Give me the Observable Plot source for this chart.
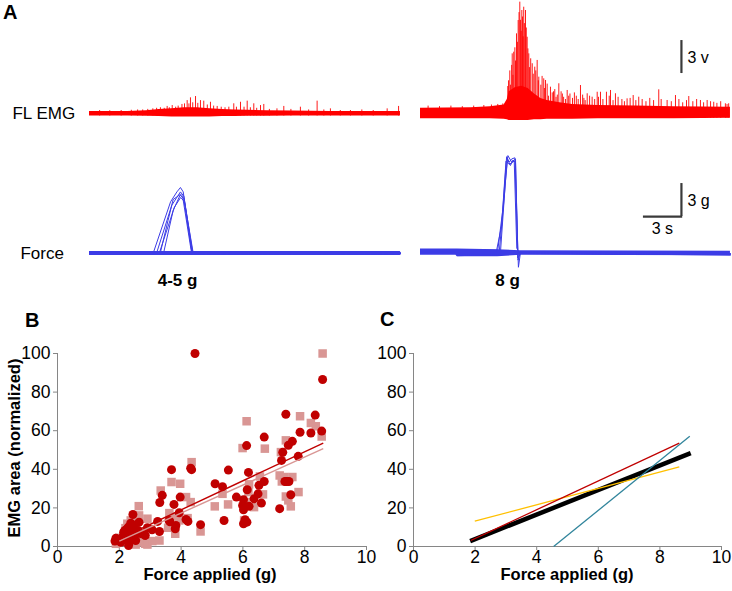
<!DOCTYPE html>
<html><head><meta charset="utf-8">
<script src="https://cdn.jsdelivr.net/npm/d3@7"></script>
<script src="https://cdn.jsdelivr.net/npm/@observablehq/plot@0.6"></script>
<style>
body{margin:0;background:#fff}
#fig{position:relative;width:732px;height:591px;overflow:hidden;background:#fff;font-family:"Liberation Sans",Arial,sans-serif;color:#000}
.lbl{position:absolute;line-height:1;white-space:nowrap}
</style></head>
<body><div id="fig"></div>
<script>
// ---------------- Panel A data (time in s, amplitude in scale-bar units) ----------------
const leftEmgBandT  = [0, 3.0, 4.5, 5.5, 6.5, 7.5, 8.5, 9.5, 10.5, 11.5, 12.5, 14.0, 16.0, 19.0, 24.55];
const leftEmgBandHi = [0.2, 0.22, 0.28, 0.38, 0.45, 0.55, 0.55, 0.45, 0.38, 0.35, 0.32, 0.28, 0.25, 0.22, 0.22];
const leftEmgBandLo = [-0.2, -0.2, -0.22, -0.25, -0.28, -0.3, -0.3, -0.28, -0.25, -0.24, -0.22, -0.22, -0.2, -0.2, -0.2];
const leftSpikeT = [0.8,1.6,2.5,3.3,3.8,4.2,4.6,5.0,5.3,5.6,5.9,6.13,6.3,6.53,6.8,7.0,7.3,7.5,7.71,7.85,7.97,8.15,8.37,8.55,8.76,9.02,9.3,9.55,9.8,10.08,10.4,10.7,11.0,11.39,11.6,11.92,12.2,12.45,12.7,12.97,13.2,13.5,13.76,14.2,14.8,15.34,15.9,16.65,17.3,17.97,18.5,19.02,19.8,20.6,21.5,22.4,23.5,24.4];
const leftSpikeA = [0.3,0.28,0.3,0.32,0.35,0.35,0.4,0.45,0.5,0.55,0.5,0.67,0.55,0.75,0.6,0.7,0.85,0.9,1.2,0.9,1.45,1.0,1.57,0.95,1.2,1.15,0.8,1.05,0.7,0.67,0.6,0.55,0.6,0.91,0.6,1.05,0.6,1.15,0.55,0.91,0.5,0.75,0.85,0.4,0.45,0.67,0.4,0.6,0.35,1.15,0.35,0.45,0.3,0.3,0.35,0.3,0.45,0.67];

const rightEmgBandT  = [0, 4.0, 5.5, 6.6, 6.85, 7.0, 7.5, 8.0, 8.5, 9.0, 9.5, 10.0, 11.0, 12.0, 14.0, 17.0, 20.0, 24.47];
const rightEmgBandHi = [0.5, 0.55, 0.65, 0.8, 1.3, 2.0, 2.4, 2.5, 2.3, 1.8, 1.4, 1.2, 1.0, 0.85, 0.75, 0.7, 0.65, 0.6];
const rightEmgBandLo = [-0.45, -0.45, -0.45, -0.5, -0.55, -0.6, -0.6, -0.6, -0.6, -0.55, -0.55, -0.5, -0.5, -0.5, -0.45, -0.45, -0.45, -0.4];
const rightSpikeT = [0.6,1.5,2.4,3.3,4.2,5.0,5.6,6.1,6.5,6.89,6.95,7.05,7.1,7.2,7.24,7.3,7.36,7.45,7.5,7.58,7.65,7.71,7.78,7.84,7.9,7.95,8.0,8.05,8.1,8.15,8.2,8.29,8.35,8.42,8.48,8.55,8.6,8.7,8.82,8.9,9.02,9.1,9.21,9.3,9.34,9.5,9.6,9.73,9.8,9.87,10.0,10.26,10.4,10.6,10.8,10.92,11.1,11.3,11.58,11.8,12.0,12.3,12.63,12.9,13.16,13.55,13.95,14.21,14.68,15.0,15.39,16.31,16.79,17.23,18.81,19.47,20.13,21.18,22.1,22.63,23.15,24.07,24.33];
const rightSpikeA = [0.7,0.65,0.7,0.65,0.7,0.75,0.8,0.85,0.9,2.48,3.0,3.9,2.6,4.4,5.45,3.5,5.6,6.0,4.8,7.27,6.5,8.48,9.2,10.15,8.5,7.5,9.39,8.8,7.0,9.69,8.2,9.39,7.8,6.96,5.9,5.45,4.2,5.0,4.55,3.6,4.24,3.9,4.85,3.0,3.33,2.6,3.4,3.18,2.3,3.03,2.7,2.42,1.9,2.2,1.7,2.73,2.0,1.5,2.12,1.8,1.4,1.6,2.57,1.4,1.82,1.51,1.96,1.96,1.96,2.12,1.82,1.36,1.66,1.51,2.18,1.21,1.66,1.57,1.21,1.21,1.05,0.91,0.91];
const rightSpike2T = [10.1,10.5,10.7,11.2,11.45,11.7,12.15,12.45,12.8,13.0,13.35,13.75,14.05,14.4,14.9,15.2,15.6,15.9,16.1,16.55,17.0,17.5,17.8,18.1,18.4,19.0,19.8,20.4,20.7,21.0,21.5,21.8,22.35,22.9,23.4,23.7,24.2];
const rightSpike2A = [1.6,2.0,1.5,1.8,1.3,1.6,1.9,1.3,1.7,1.2,1.6,1.3,1.5,1.3,1.6,1.2,1.5,1.3,1.1,1.4,1.2,1.3,1.1,1.4,1.2,1.3,1.1,1.3,1.0,1.2,1.1,1.3,1.0,1.1,0.95,1.1,0.85];

// Force traces: [time s, force g]
const leftForce1 = [[0,0],[5.05,0.1],[6.4,4.7],[6.9,5.6],[7.18,6.0],[7.4,5.6],[8.1,0],[24.55,0]];
const leftForce2 = [[0,0.05],[5.3,0.05],[6.5,4.4],[7.18,5.6],[7.45,5.2],[8.15,0.05],[24.55,0.05]];
const leftForce3 = [[0,-0.05],[5.5,0],[6.7,4.2],[7.2,5.1],[7.5,4.7],[8.2,-0.05],[24.55,0]];
const leftForce4 = [[0,0],[5.84,0],[6.6,3.9],[7.15,5.3],[7.45,5.0],[8.1,0],[24.55,-0.05]];
const leftForce5 = [[0,0.1],[5.6,0.1],[6.2,3.0],[6.6,4.9],[7.2,5.4],[7.35,5.2],[8.05,0.1],[24.55,0.1]];
const rightForce1 = [[0,0.3],[4,0.35],[6.1,0.3],[6.5,4.0],[6.8,8.8],[7.0,8.3],[7.2,8.6],[7.45,8.7],[7.73,-1.25],[7.9,0.15],[15,0.1],[24.47,-0.1]];
const rightForce2 = [[0,0.15],[2.8,0.2],[2.9,-0.1],[6.2,-0.05],[6.6,5],[6.85,8.6],[7.1,8.0],[7.3,8.5],[7.5,8.3],[7.7,-0.6],[7.9,0.1],[24.47,0]];
const rightForce3 = [[0,0.25],[6.0,0.25],[6.4,2.5],[6.75,8.4],[7.0,8.1],[7.4,8.4],[7.6,0.5],[7.8,0.0],[24.47,-0.05]];
const rightForce4 = [[0,0.1],[2.8,0.1],[2.9,-0.2],[6.3,-0.1],[6.7,6.5],[6.9,8.9],[7.2,8.3],[7.5,8.6],[7.68,-0.4],[7.85,0.05],[24.47,-0.15]];
const leftForceBandT = [0, 24.55], leftForceBandHi = [0.18, 0.18], leftForceBandLo = [-0.18, -0.18];
const rightForceBandT = [0, 2.8, 2.9, 6.1, 7.9, 24.47], rightForceBandHi = [0.42, 0.42, 0.4, 0.35, 0.25, 0.2], rightForceBandLo = [-0.15, -0.15, -0.3, -0.3, -0.15, -0.2];

const emgOffset = 12.7;           // EMG channel drawn above force channel
const channelLabels = ["FL EMG", "Force"];
const conditionLabels = ["4-5 g", "8 g"];
const scaleBarLabels = ["3 v", "3 g", "3 s"];

// ---------------- Panel B data ----------------
const circleX = [1.86,1.89,1.99,2.05,2.3,2.32,2.53,2.14,2.18,2.24,2.29,2.37,2.43,2.48,2.44,2.48,2.57,2.61,2.64,2.72,2.84,2.91,3.06,3.24,3.3,3.31,3.39,3.61,3.64,3.69,3.77,3.81,3.83,3.94,3.97,4.16,4.22,4.31,4.34,4.45,4.63,5.1,5.34,5.39,5.53,5.79,5.99,6.02,6.02,6.02,6.07,6.13,6.12,6.14,6.18,6.2,6.36,6.49,6.52,6.6,6.69,6.69,7.19,7.25,7.29,7.36,7.42,7.49,7.39,7.47,7.55,7.6,7.79,7.85,8.2,8.34,8.55,8.58,2.2,2.35,2.1,2.27];
const circleY = [2.8,4.3,3.5,2.2,0.5,2.2,3.1,7.4,8.3,9.0,10,12.1,11.3,10,16.6,7.4,6.9,8.3,12.6,6.6,5.7,9.7,8.7,13,7.8,22.8,26.5,13.5,12.8,39.8,21.8,9.2,10.9,17.5,25.6,14,13,40.6,39.8,100,11.3,32.5,31,13.5,39.6,25.6,21.3,24.2,19,11.8,13.9,12.6,52.3,29.4,38.4,20.8,24.7,27.3,31.7,22.5,33.7,56.7,19.6,44.6,48.8,33.7,33.7,33.7,68.5,52.4,26.8,54.5,46.7,59.2,58.8,68.1,59.8,86.5,5.5,6.2,4.8,3.9];
const squareX = [1.89,1.94,2.1,2.16,2.26,2.37,2.53,2.53,2.64,2.64,2.63,2.75,2.84,2.91,2.91,3.07,3.3,3.34,3.58,3.62,3.69,3.8,3.81,3.94,3.97,4.16,4.21,4.31,4.34,4.63,5.09,5.34,5.52,5.99,6.04,6.09,6.12,6.18,6.2,6.36,6.55,6.65,6.71,7.19,7.23,7.26,7.33,7.39,7.39,7.47,7.55,7.6,7.8,7.85,8.2,8.36,8.55,8.58,2.4,2.2,2.0];
const squareY = [1.4,2.2,3.5,5.2,11.8,13.5,14.7,1.0,2.2,16.1,20.9,4.8,1.4,1.0,14.4,2.8,3.1,29,9.7,17.3,33.4,15.6,6.6,13.5,32.5,25.6,14.7,23,43.7,7.8,20.8,27.3,21.8,51,13.5,23,64.9,28.2,32.2,20.4,36.3,27,50.7,36.8,48.9,33.7,36,25.9,55,23.9,20.8,36,28.2,67.5,64,62.3,57,100,8.0,9.5,4.5];
// fitted lines: [x1, y1, x2, y2]
const fitCircles = [1.94, 3.5, 8.6, 53.6];
const fitSquares = [2.0, 2.8, 8.6, 50.7];

// ---------------- Panel C data ----------------
const lineRed    = [1.86, 3.1, 8.63, 53.6];
const lineTeal   = [4.55, 0, 8.97, 57.1];
const lineYellow = [1.99, 13.1, 8.63, 41.2];
const lineBlack  = [1.84, 2.8, 9.0, 48.4];

const xTicks = [0, 2, 4, 6, 8, 10];
const yTicks = [0, 20, 40, 60, 80, 100];
const xTitle = "Force applied (g)";
const yTitle = "EMG area (normalized)";
const panelLetters = ["A", "B", "C"];

// ---------------- Styles ----------------
const RED = "#ff0000", BLUE = "#3c3ce6", DARKRED = "#c00000", PINK = "#d99694";
const TEAL = "#31859c", YELLOW = "#ffc000", AXIS = "#868686", BAR = "#3a3a3a";
const FONT = "'Liberation Sans', Arial, sans-serif";
const TICK_FONT = 17.5;

const fig = document.getElementById("fig");
function place(el, left, top) { el.style.position = "absolute"; el.style.left = left + "px"; el.style.top = top + "px"; fig.appendChild(el); }
function label(text, left, top, size, bold, extra) {
  const d = document.createElement("div"); d.className = "lbl"; d.textContent = text;
  d.style.fontSize = size + "px"; d.style.fontWeight = bold ? "bold" : "normal";
  d.style.left = left + "px"; d.style.top = top + "px";
  if (extra) Object.assign(d.style, extra);
  fig.appendChild(d); return d;
}

const band = (T, Hi, Lo, off) => T.map((t, i) => ({t, hi: off + Hi[i], lo: off + Lo[i]}));
const spikes = (T, A, off, base) => T.map((t, i) => ({t, y1: off + base, y2: off + A[i]}));
const traces = (list) => list.flatMap((tr, k) => tr.map(([t, g]) => ({t, g, k})));

const pxPerS = 38 / 3, pxPerU = 11;
const yDomA = [-47 / pxPerU, 253 / pxPerU];

function panelA(width, t0px, emgBand, emgSpikes, forceRows, forceBand, extra) {
  return Plot.plot({
    width, height: 300, margin: 0,
    style: {overflow: "visible", background: "transparent", fontFamily: FONT},
    x: {domain: [-t0px / pxPerS, (width - t0px) / pxPerS], axis: null},
    y: {domain: yDomA, axis: null},
    marks: [
      Plot.areaY(emgBand, {x: "t", y1: "lo", y2: "hi", fill: RED}),
      Plot.ruleX(emgSpikes, {x: "t", y1: "y1", y2: "y2", stroke: RED, strokeWidth: 0.9}),
      Plot.areaY(forceBand, {x: "t", y1: "lo", y2: "hi", fill: BLUE}),
      Plot.line(forceRows, {x: "t", y: "g", z: "k", stroke: BLUE, strokeWidth: 1}),
      ...extra
    ]
  });
}

const leftA = panelA(410, 89,
  band(leftEmgBandT, leftEmgBandHi, leftEmgBandLo, emgOffset),
  spikes(leftSpikeT, leftSpikeA, emgOffset, -0.2),
  traces([leftForce1, leftForce2, leftForce3, leftForce4, leftForce5]),
  band(leftForceBandT, leftForceBandHi, leftForceBandLo, 0),
  [
    Plot.text([{t: -6.08, y: emgOffset, s: channelLabels[0]}, {t: -5.45, y: 0, s: channelLabels[1]}],
      {x: "t", y: "y", text: "s", textAnchor: "start", fontSize: 17, fill: "black"}),
    Plot.text([{t: 6.95, y: -2.5, s: conditionLabels[0]}],
      {x: "t", y: "y", text: "s", fontSize: 17, fontWeight: "bold", fill: "black"})
  ]);
place(leftA, 0, 0);

const rightA = panelA(322, 10,
  band(rightEmgBandT, rightEmgBandHi, rightEmgBandLo, emgOffset),
  spikes(rightSpikeT.concat(rightSpike2T), rightSpikeA.concat(rightSpike2A), emgOffset, -0.4),
  traces([rightForce1, rightForce2, rightForce3, rightForce4]),
  band(rightForceBandT, rightForceBandHi, rightForceBandLo, 0),
  [
    Plot.text([{t: 6.87, y: -2.5, s: conditionLabels[1]}],
      {x: "t", y: "y", text: "s", fontSize: 17, fontWeight: "bold", fill: "black"}),
    // scale bars: 3 v, 3 g (vertical) and 3 s (horizontal)
    Plot.ruleX([{t: 20.6, y1: emgOffset + 3.66, y2: emgOffset + 6.66}, {t: 20.6, y1: 3.36, y2: 6.36}],
      {x: "t", y1: "y1", y2: "y2", stroke: BAR, strokeWidth: 2.2}),
    Plot.ruleY([{y: 3.36, x1: 17.6, x2: 20.7}], {y: "y", x1: "x1", x2: "x2", stroke: BAR, strokeWidth: 2.2}),
    Plot.text([{t: 21.07, y: emgOffset + 5.07, s: scaleBarLabels[0]}, {t: 21.07, y: 4.75, s: scaleBarLabels[1]}],
      {x: "t", y: "y", text: "s", textAnchor: "start", fontSize: 16, fill: "black"}),
    Plot.text([{t: 19.1, y: 2.2, s: scaleBarLabels[2]}],
      {x: "t", y: "y", text: "s", fontSize: 16, fill: "black"})
  ]);
place(rightA, 410, 0);

// ---------------- Panels B and C ----------------
const circles = circleX.map((x, i) => ({x, y: circleY[i]}));
const squares = squareX.map((x, i) => ({x, y: squareY[i]}));
const seg = (a, color, w) => ({x1: a[0], y1: a[1], x2: a[2], y2: a[3], color, w});

function axesMarks() {
  return [
    Plot.axisX({ticks: xTicks, tickSize: 4, tickPadding: 0, stroke: AXIS, label: null, fontSize: TICK_FONT}),
    Plot.axisY({ticks: yTicks, tickSize: 4, tickPadding: 3, stroke: AXIS, label: null, fontSize: TICK_FONT}),
    Plot.ruleY([0], {stroke: AXIS}),
    Plot.ruleX([0], {stroke: AXIS})
  ];
}
const common = {
  height: 291, marginTop: 53, marginBottom: 45,
  style: {overflow: "visible", background: "transparent", fontFamily: FONT, fontSize: TICK_FONT + "px", color: "black"},
  x: {domain: [0, 10]}, y: {domain: [0, 100]}
};
function bigTicks(svg) {
  d3.select(svg).selectAll("g[aria-label$='tick label'], g[aria-label$='tick label'] text")
    .attr("font-size", TICK_FONT).style("font-size", TICK_FONT + "px");
  return svg;
}

const fitsB = [seg(fitSquares, PINK, 1.4), seg(fitCircles, DARKRED, 1.4)];
const plotB = bigTicks(Plot.plot({
  ...common, width: 370, marginLeft: 57, marginRight: 4,
  marks: [
    ...axesMarks(),
    Plot.dot(squares, {x: "x", y: "y", symbol: "square", r: 4.8, fill: PINK}),
    Plot.dot(circles, {x: "x", y: "y", r: 4.5, fill: DARKRED}),
    Plot.link(fitsB, {x1: "x1", y1: "y1", x2: "x2", y2: "y2", stroke: "color", strokeWidth: "w"})
  ]
}));
place(plotB, 0, 300);

const linesC = [seg(lineBlack, "#000", 4.5), seg(lineYellow, YELLOW, 1.3), seg(lineRed, DARKRED, 1.3), seg(lineTeal, TEAL, 1.3)];
const plotC = bigTicks(Plot.plot({
  ...common, width: 362, marginLeft: 43, marginRight: 11,
  marks: [
    ...axesMarks(),
    Plot.link(linesC, {x1: "x1", y1: "y1", x2: "x2", y2: "y2", stroke: d => d.color, strokeWidth: d => d.w})
  ]
}));
place(plotC, 370, 300);

// ---------------- Text outside SVGs ----------------
label(panelLetters[0], 3, 2.4, 20, true);
label(panelLetters[1], 25, 310.4, 20, true);
label(panelLetters[2], 380, 309.4, 20, true);
label(xTitle, 110, 566, 16.5, true, {width: "200px", textAlign: "center"});
label(xTitle, 467, 566, 16.5, true, {width: "200px", textAlign: "center"});
label(yTitle, 14, 448, 16.5, true, {transform: "translate(-50%,-50%) rotate(-90deg)"});
</script></body></html>
